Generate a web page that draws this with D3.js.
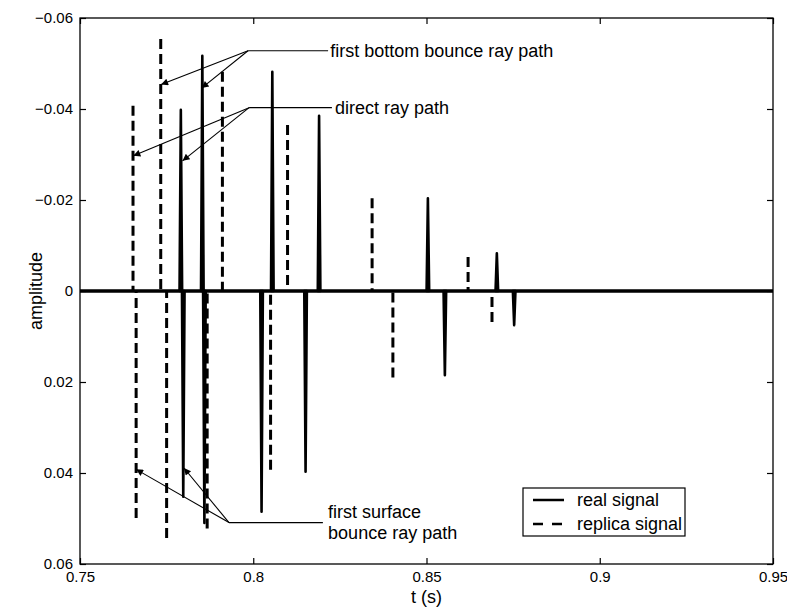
<!DOCTYPE html>
<html><head><meta charset="utf-8">
<script src="https://cdn.jsdelivr.net/npm/d3@7"></script>
<style>
body{margin:0;background:#fff}
svg text{font-family:"Liberation Sans",Arial,Helvetica,sans-serif;fill:#000}
</style>
</head><body>
<svg id="c" width="787" height="608"></svg>
<script>
// ---- data ----
const xTicks = [0.75, 0.8, 0.85, 0.9, 0.95];
const xTickLabels = ["0.75", "0.8", "0.85", "0.9", "0.95"];
const yTicks = [-0.06, -0.04, -0.02, 0, 0.02, 0.04, 0.06];
const yTickLabels = ["\u22120.06", "\u22120.04", "\u22120.02", "0", "0.02", "0.04", "0.06"];

// real signal spikes (time s, amplitude)
const realTimes = [0.7791, 0.7798, 0.7853, 0.7859, 0.8024, 0.8055, 0.8151, 0.8190, 0.8504, 0.8553, 0.8703, 0.8753];
const realAmps  = [-0.0398, 0.0452, -0.0517, 0.0510, 0.0485, -0.0482, 0.0397, -0.0385, -0.0204, 0.0185, -0.0083, 0.0075];

// replica signal spikes
const replicaTimes = [0.7653, 0.7662, 0.7733, 0.7750, 0.7867, 0.7911, 0.8050, 0.8099, 0.8343, 0.8403, 0.8620, 0.8689];
const replicaAmps  = [-0.0407, 0.0499, -0.0554, 0.0543, 0.0522, -0.0482, 0.0393, -0.0365, -0.0204, 0.0190, -0.0075, 0.0068];

const seriesNames = ["real signal", "replica signal"];

// annotations: knee point, end of horizontal leader, arrow targets, text lines
const annotations = [
  {knee: [0.7985, -0.0528], end: 0.8216, text: ["first bottom bounce ray path"], textAt: [0.8222, -0.0528],
   targets: [[0.7734, -0.0454], [0.7851, -0.0446]]},
  {knee: [0.7988, -0.0403], end: 0.8227, text: ["direct ray path"], textAt: [0.8236, -0.0403],
   targets: [[0.7654, -0.0297], [0.7796, -0.0286]]},
  {knee: [0.7930, 0.0509], end: 0.8201, text: ["first surface", "bounce ray path"], textAt: [0.8216, 0.0486],
   targets: [[0.7662, 0.0392], [0.7800, 0.0389]]}
];

// ---- chart ----
const W = 787, H = 608;
const m = {left: 80, right: 773, top: 18, bottom: 564};
const svg = d3.select("#c");
svg.append("rect").attr("width", W).attr("height", H).attr("fill", "#fff");

const x = d3.scaleLinear().domain([0.75, 0.95]).range([m.left, m.right]);
const y = d3.scaleLinear().domain([-0.06, 0.06]).range([m.top, m.bottom]);

// frame
svg.append("rect").attr("x", m.left).attr("y", m.top)
  .attr("width", m.right - m.left).attr("height", m.bottom - m.top)
  .attr("fill", "none").attr("stroke", "#000").attr("stroke-width", 1.3);

function styleAxis(g) {
  g.select(".domain").remove();
  g.selectAll(".tick line").attr("stroke", "#000").attr("stroke-width", 1.2);
  g.selectAll(".tick text").attr("font-size", 15).attr("fill", "#000")
    .attr("font-family", '"Liberation Sans",Arial,sans-serif');
}
svg.append("g").attr("transform", `translate(0,${m.bottom})`)
  .call(d3.axisBottom(x).tickValues(xTicks).tickSize(-6).tickPadding(7).tickFormat((d, i) => xTickLabels[i]))
  .call(styleAxis);
svg.append("g").attr("transform", `translate(0,${m.top})`)
  .call(d3.axisTop(x).tickValues(xTicks).tickSize(-6).tickFormat(""))
  .call(styleAxis);
svg.append("g").attr("transform", `translate(${m.left},0)`)
  .call(d3.axisLeft(y).tickValues(yTicks).tickSize(-6).tickPadding(7).tickFormat((d, i) => yTickLabels[i]))
  .call(styleAxis);
svg.append("g").attr("transform", `translate(${m.right},0)`)
  .call(d3.axisRight(y).tickValues(yTicks).tickSize(-6).tickFormat(""))
  .call(styleAxis);

const plot = svg.append("g");
const line = d3.line().x(d => x(d[0])).y(d => y(d[1]));

// replica baseline + spikes (dashed)
plot.append("path").attr("d", line([[0.75, 0], [0.95, 0]]))
  .attr("stroke", "#000").attr("stroke-width", 3).attr("fill", "none");
replicaTimes.forEach((t, i) => {
  plot.append("path").attr("d", line([[t, replicaAmps[i]], [t, 0]]))
    .attr("stroke", "#000").attr("stroke-width", 3).attr("fill", "none")
    .attr("stroke-dasharray", "10,5");
});

// real spikes (solid, slightly tapered)
realTimes.forEach((t, i) => {
  const px = x(t);
  plot.append("path")
    .attr("d", `M${px - 1.3},${y(0)}L${px},${y(realAmps[i])}L${px + 1.3},${y(0)}Z`)
    .attr("fill", "#000").attr("stroke", "#000").attr("stroke-width", 2.6).attr("stroke-linejoin", "round");
});
plot.append("path").attr("d", line([[0.75, 0], [0.95, 0]]))
  .attr("stroke", "#000").attr("stroke-width", 3).attr("fill", "none");

// arrow marker
svg.append("defs").append("marker").attr("id", "ah")
  .attr("viewBox", "0 0 10 10").attr("refX", 10).attr("refY", 5)
  .attr("markerUnits", "userSpaceOnUse").attr("markerWidth", 10).attr("markerHeight", 7)
  .attr("orient", "auto")
  .append("path").attr("d", "M0,0L10,5L0,10Z").attr("fill", "#000");

// annotations
const ann = svg.append("g");
annotations.forEach(a => {
  ann.append("path").attr("d", line([a.knee, [a.end, a.knee[1]]]))
    .attr("stroke", "#000").attr("stroke-width", 1.1).attr("fill", "none");
  a.targets.forEach(tg => {
    ann.append("path").attr("d", line([a.knee, tg]))
      .attr("stroke", "#000").attr("stroke-width", 1.1).attr("fill", "none")
      .attr("marker-end", "url(#ah)");
  });
  a.text.forEach((s, j) => {
    ann.append("text").attr("x", x(a.textAt[0])).attr("y", y(a.textAt[1]) + j * 21)
      .attr("dy", "0.35em").attr("font-size", 18).text(s);
  });
});

// legend
const lg = svg.append("g");
lg.append("rect").attr("x", 523).attr("y", 488).attr("width", 162).attr("height", 48)
  .attr("fill", "#fff").attr("stroke", "#000").attr("stroke-width", 1.2);
seriesNames.forEach((nm, i) => {
  const yy = 500 + i * 24;
  lg.append("line").attr("x1", 533).attr("x2", 564).attr("y1", yy).attr("y2", yy)
    .attr("stroke", "#000").attr("stroke-width", 2.5)
    .attr("stroke-dasharray", i === 1 ? "10,9" : null);
  lg.append("text").attr("x", 577).attr("y", yy).attr("dy", "0.35em")
    .attr("font-size", 18).text(nm);
});

// axis labels
svg.append("text").attr("x", (m.left + m.right) / 2).attr("y", 597).attr("dy", "0.35em")
  .attr("text-anchor", "middle").attr("font-size", 18).text("t (s)");
svg.append("text").attr("transform", `translate(36,${(m.top + m.bottom) / 2}) rotate(-90)`)
  .attr("dy", "0.35em").attr("text-anchor", "middle").attr("font-size", 18).text("amplitude");
</script>
</body></html>
